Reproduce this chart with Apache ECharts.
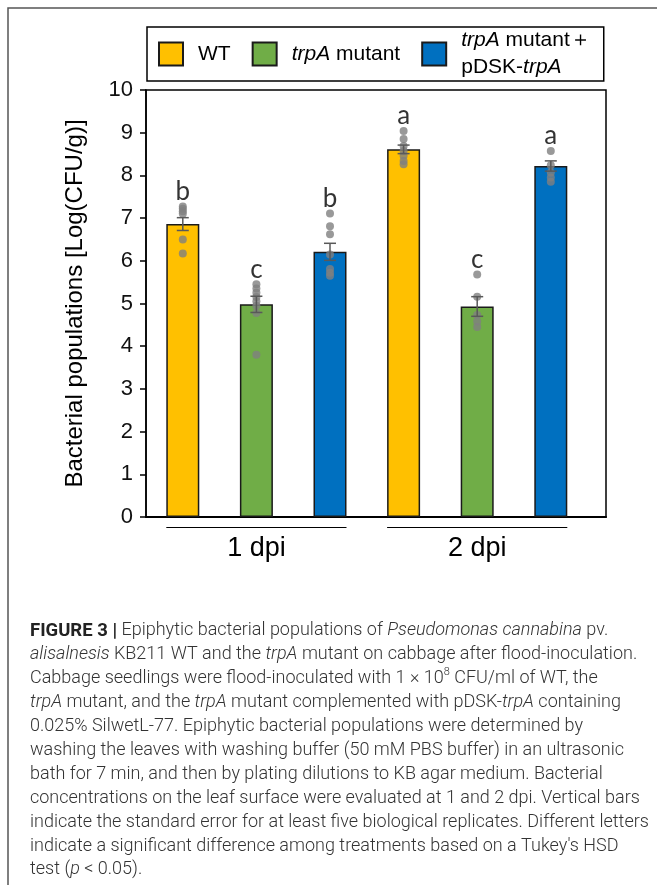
<!DOCTYPE html>
<html><head><meta charset="utf-8">
<script src="https://cdn.jsdelivr.net/npm/echarts@6/dist/echarts.min.js"></script>
<style>html,body{margin:0;padding:0;background:#fff}#c{width:657px;height:885px}</style>
</head><body><div id="c"></div>
<script>
// ---------- data ----------
const groups = ['1 dpi', '2 dpi'];
const treatments = ['WT', 'trpA mutant', 'trpA mutant＋pDSK-trpA'];
const colors = ['#FFC000', '#70AD47', '#0070C0'];
const meanWT = [6.86, 8.61];
const meanMutant = [4.98, 4.93];
const meanComp = [6.21, 8.22];
const seWT = [0.15, 0.10];
const seMutant = [0.19, 0.23];
const seComp = [0.20, 0.12];
const pointsWT = [[7.27, 7.22, 7.16, 7.10, 6.50, 6.17], [9.04, 8.85, 8.69, 8.57, 8.46, 8.34, 8.26]];
const pointsMutant = [[5.45, 5.35, 5.25, 5.15, 5.05, 4.95, 4.78, 3.80], [5.68, 5.16, 4.73, 4.58, 4.45]];
const pointsComp = [[7.11, 6.81, 6.62, 6.15, 5.81, 5.72, 5.65], [8.57, 8.24, 8.07, 7.95, 7.85]];
const lettersWT = ['b', 'a'];
const lettersMutant = ['c', 'c'];
const lettersComp = ['b', 'a'];
const yTickLabels = ['0','1','2','3','4','5','6','7','8','9','10'];
const captionLines = [
 '{b|FIGURE 3 |} Epiphytic bacterial populations of {i|Pseudomonas cannabina} pv.',
 '{i|alisalnesis} KB211 WT and the {i|trpA} mutant on cabbage after flood-inoculation.',
 'Cabbage seedlings were flood-inoculated with 1 × 10{sup|8} CFU/ml of WT, the',
 '{i|trpA} mutant, and the {i|trpA} mutant complemented with pDSK-{i|trpA} containing',
 '0.025% SilwetL-77. Epiphytic bacterial populations were determined by',
 'washing the leaves with washing buffer (50 mM PBS buffer) in an ultrasonic',
 'bath for 7 min, and then by plating dilutions to KB agar medium. Bacterial',
 'concentrations on the leaf surface were evaluated at 1 and 2 dpi. Vertical bars',
 'indicate the standard error for at least five biological replicates. Different letters',
 'indicate a significant difference among treatments based on a Tukey\'s HSD',
 'test ({i|p} < 0.05).'
];

// ---------- build ----------
const means = [meanWT, meanMutant, meanComp];
const ses = [seWT, seMutant, seComp];
const points = [pointsWT, pointsMutant, pointsComp];
const letters = [lettersWT, lettersMutant, lettersComp];
const nT = treatments.length;
const slot = (g, t) => g * nT + t + 0.5;
const BAR_W = 33;
const FONT = '"Liberation Sans", Arial, sans-serif';
const LH = 23.9;

const barSeries = treatments.map((name, t) => ({
  type: 'bar', name: name, barWidth: BAR_W, barGap: '-100%',
  itemStyle: { color: colors[t], borderColor: '#1a1a1a', borderWidth: 1.5 },
  data: groups.map((g, gi) => [slot(gi, t), means[t][gi]]),
  z: 2
}));

const dotData = [], errData = [], letterData = [];
treatments.forEach((name, t) => {
  groups.forEach((g, gi) => {
    const x = slot(gi, t);
    points[t][gi].forEach(v => dotData.push([x, v]));
    errData.push([x, means[t][gi], ses[t][gi]]);
    letterData.push({ name: letters[t][gi], value: [x, Math.max.apply(null, points[t][gi])] });
  });
});

const legendLabel = {
  'WT': 'WT',
  'trpA mutant': '{i|trpA} mutant',
  'trpA mutant＋pDSK-trpA': '{i|trpA} mutant＋\npDSK-{i|trpA}'
};

const chart = echarts.init(document.getElementById('c'), null, { renderer: 'canvas' });
chart.setOption({
  animation: false,
  backgroundColor: '#fff',
  graphic: [{
    type: 'rect', z: -1, silent: true,
    shape: { x: 8, y: 8, width: 700, height: 900 },
    style: { fill: 'none', stroke: '#555', lineWidth: 1.5 }
  }],
  title: {
    left: 25, top: 614,
    text: captionLines.join('\n'),
    textStyle: {
      fontFamily: 'Roboto', fontWeight: 300, fontSize: 18, color: '#333', lineHeight: LH,
      rich: {
        b: { fontFamily: 'Roboto', fontWeight: 'bold', fontSize: 18.5, color: '#222', lineHeight: LH },
        i: { fontFamily: 'Roboto', fontWeight: 300, fontStyle: 'italic', fontSize: 18, color: '#333', lineHeight: LH },
        sup: { fontFamily: 'Roboto', fontWeight: 300, fontSize: 11, color: '#333', lineHeight: LH, verticalAlign: 'top', padding: [0, 0, 8, 0] }
      }
    }
  },
  legend: {
    data: treatments,
    left: 147, top: 27,
    orient: 'horizontal',
    itemWidth: 24, itemHeight: 23, itemGap: 21,
    padding: [0, 13, 0, 11],
    borderColor: '#000', borderWidth: 1.5,
    icon: 'rect',
    formatter: n => legendLabel[n],
    textStyle: {
      fontFamily: FONT, fontSize: 21, color: '#000', lineHeight: 27, padding: [0, 0, 0, 10],
      rich: { i: { fontFamily: FONT, fontSize: 21, fontStyle: 'italic', color: '#000', lineHeight: 27 } }
    }
  },
  grid: {
    left: 146, top: 90, right: 51, bottom: 368,
    show: true, borderColor: '#000', borderWidth: 1.5, backgroundColor: 'transparent'
  },
  xAxis: {
    type: 'value', min: 0, max: 6.25,
    axisLine: { show: true, onZero: false, lineStyle: { color: '#000', width: 2 } },
    axisTick: { show: false }, axisLabel: { show: false }, splitLine: { show: false }
  },
  yAxis: {
    type: 'value', min: 0, max: 10, interval: 1,
    name: 'Bacterial populations [Log(CFU/g)]',
    nameLocation: 'middle', nameGap: 59,
    nameTextStyle: { fontFamily: FONT, fontSize: 24, color: '#000' },
    axisLine: { show: true, lineStyle: { color: '#000', width: 1.5 } },
    axisTick: { show: true, inside: false, length: 6, lineStyle: { color: '#000', width: 1.5 } },
    axisLabel: { fontFamily: FONT, fontSize: 22, color: '#111', margin: 13,
      formatter: v => yTickLabels[Math.round(v)] },
    splitLine: { show: false }
  },
  series: barSeries.concat([
    {
      type: 'scatter', name: 'points', data: dotData, symbolSize: 8,
      itemStyle: { color: '#808080' }, z: 3
    },
    {
      type: 'custom', name: 'se', data: errData, z: 4,
      encode: { x: 0, y: 1 },
      renderItem: (params, api) => {
        const x = api.value(0), m = api.value(1), s = api.value(2);
        const top = api.coord([x, m + s]), bot = api.coord([x, m - s]);
        const hw = 6, st = { stroke: '#595959', lineWidth: 1.5 };
        return { type: 'group', children: [
          { type: 'line', shape: { x1: top[0], y1: top[1], x2: bot[0], y2: bot[1] }, style: st },
          { type: 'line', shape: { x1: top[0] - hw, y1: top[1], x2: top[0] + hw, y2: top[1] }, style: st },
          { type: 'line', shape: { x1: bot[0] - hw, y1: bot[1], x2: bot[0] + hw, y2: bot[1] }, style: st }
        ] };
      }
    },
    {
      type: 'scatter', name: 'letters', data: letterData, symbolSize: 0, z: 5,
      label: { show: true, position: 'top', distance: 2, formatter: '{b}',
        fontFamily: 'Lato, "Open Sans", sans-serif', fontWeight: 'normal', fontSize: 26, color: '#000' }
    },
    {
      type: 'custom', name: 'groups', clip: false, z: 5,
      encode: { x: [0, 1], y: 2 },
      data: groups.map((g, gi) => [slot(gi, 0), slot(gi, nT - 1), 0]),
      renderItem: (params, api) => {
        const a = api.coord([api.value(0), api.value(2)]);
        const b = api.coord([api.value(1), api.value(2)]);
        const y0 = Math.round(a[1]);
        return { type: 'group', children: [
          { type: 'line', shape: { x1: a[0] - BAR_W / 2, y1: y0 + 10.5, x2: b[0] + BAR_W / 2, y2: y0 + 10.5 },
            style: { stroke: '#000', lineWidth: 1 } },
          { type: 'text', x: (a[0] + b[0]) / 2, y: y0 + 32,
            style: { text: groups[params.dataIndex], fontFamily: FONT, fontSize: 27, fill: '#000',
              align: 'center', verticalAlign: 'middle' } }
        ] };
      }
    }
  ])
});
</script></body></html>
